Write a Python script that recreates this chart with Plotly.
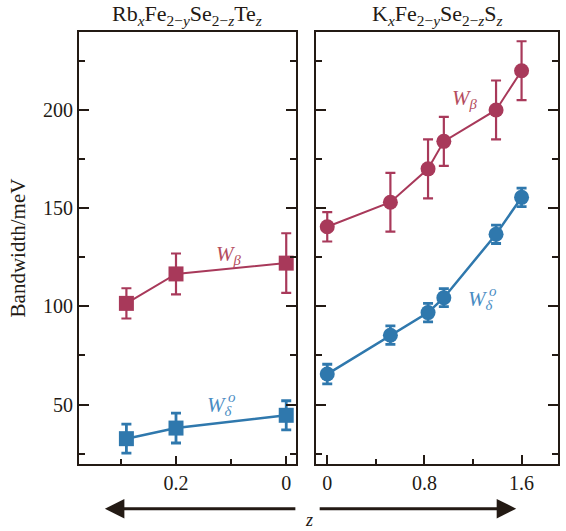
import plotly.graph_objects as go

# Rb_xFe_{2-y}Se_{2-z}Te_z series (x axis runs from high z to low z)
z_te = [0.29, 0.2, 0.0]
wb_te = [101.5, 116.5, 122.0]
wb_te_err = [7.7, 10.4, 15.2]
wd_te = [32.6, 38.0, 44.5]
wd_te_err = [7.4, 7.6, 7.4]

# K_xFe_{2-y}Se_{2-z}S_z series
z_s = [0.0, 0.52, 0.83, 0.96, 1.39, 1.6]
wb_s = [140.5, 153.0, 170.0, 184.0, 200.0, 220.0]
wb_s_err = [7.5, 15.0, 15.0, 12.5, 15.0, 15.0]
wd_s = [65.5, 85.3, 96.8, 104.4, 136.7, 155.5]
wd_s_err = [5.0, 4.7, 4.7, 4.6, 4.7, 4.7]

te_ticks = [0.2, 0.0]
te_ticktext = ["0.2", "0"]
te_minor = [0.3, 0.1]
s_ticks = [0.0, 0.8, 1.6]
s_ticktext = ["0", "0.8", "1.6"]

RED = "#a8395a"
BLUE = "#2f78ad"
RED_TXT = "#b44c5e"
BLUE_TXT = "#4a8cc3"
INK = "#231a14"
FONT = "Liberation Serif"

fig = go.Figure()


def add_series(x, y, err, color, symbol, xa, ya, lw, ew):
    fig.add_trace(go.Scatter(
        x=x, y=y, xaxis=xa, yaxis=ya, mode="lines+markers",
        line=dict(color=color, width=lw),
        marker=dict(color=color, size=15, symbol=symbol, line=dict(width=0)),
        error_y=dict(type="data", array=err, visible=True, color=color,
                     thickness=ew, width=5),
        showlegend=False, cliponaxis=False,
    ))


add_series(z_te, wb_te, wb_te_err, RED, "square", "x", "y", 2, 2.2)
add_series(z_te, wd_te, wd_te_err, BLUE, "square", "x", "y", 2.5, 2.8)
add_series(z_s, wb_s, wb_s_err, RED, "circle", "x2", "y2", 2, 2.2)
add_series(z_s, wd_s, wd_s_err, BLUE, "circle", "x2", "y2", 2.5, 2.8)

axis_common = dict(
    showline=True, linewidth=2, linecolor=INK, showgrid=False, zeroline=False,
    ticks="inside", tickcolor=INK, tickwidth=2,
    tickfont=dict(family=FONT, size=20, color=INK),
)

yr = [19.7, 239.7]
y_common = dict(axis_common, range=yr, tickmode="linear", tick0=0, dtick=50,
                ticklen=10, mirror="ticks",
                minor=dict(tickmode="linear", tick0=0, dtick=25, ticklen=6,
                           tickcolor=INK, tickwidth=2, ticks="inside"))

fig.update_layout(
    width=566, height=531,
    margin=dict(l=79, r=6, t=32, b=67),
    paper_bgcolor="white", plot_bgcolor="white",
    font=dict(family=FONT, color=INK),
    xaxis=dict(axis_common, domain=[0, 0.4522], range=[0.376, -0.017],
               tickmode="array", tickvals=te_ticks, ticktext=te_ticktext,
               ticklen=8, mirror=True,
               minor=dict(tickmode="array", tickvals=te_minor, ticklen=5,
                          tickcolor=INK, tickwidth=2, ticks="inside")),
    xaxis2=dict(axis_common, domain=[0.4958, 1.0], range=[-0.0886, 1.90],
                tickmode="array", tickvals=s_ticks, ticktext=s_ticktext,
                ticklen=9, mirror=True,
                minor=dict(tickmode="array", tickvals=[0.4, 1.2], ticklen=5,
                           tickcolor=INK, tickwidth=2, ticks="inside")),
    yaxis=dict(y_common, anchor="x",
               title=dict(text="Bandwidth/meV",
                          font=dict(family=FONT, size=21, color=INK),
                          standoff=12)),
    yaxis2=dict(y_common, anchor="x2", showticklabels=False),
)

annotations = [
    # panel headings
    dict(text="Rb<sub><i>x</i></sub>Fe<sub>2−<i>y</i></sub>Se<sub>2−<i>z</i></sub>Te<sub><i>z</i></sub>",
         xref="paper", yref="paper", x=0.2261, y=1.0394, showarrow=False,
         xanchor="center", yanchor="middle",
         font=dict(family=FONT, size=22, color=INK)),
    dict(text="K<sub><i>x</i></sub>Fe<sub>2−<i>y</i></sub>Se<sub>2−<i>z</i></sub>S<sub><i>z</i></sub>",
         xref="paper", yref="paper", x=0.7479, y=1.0394, showarrow=False,
         xanchor="center", yanchor="middle",
         font=dict(family=FONT, size=22, color=INK)),
    # series labels
    dict(text="<i>W</i><sub><i>β</i></sub>", xref="x", yref="y", x=0.103, y=126.1,
         showarrow=False, font=dict(family=FONT, size=21, color=RED_TXT)),
    dict(text="<i>W</i><sub><i>δ</i></sub>", xref="x", yref="y", x=0.1195, y=49.0,
         showarrow=False, font=dict(family=FONT, size=21, color=BLUE_TXT)),
    dict(text="<i>o</i>", xref="x", yref="y", x=0.1195, y=49.0, xshift=12, yshift=9,
         showarrow=False, font=dict(family=FONT, size=15, color=BLUE_TXT)),
    dict(text="<i>W</i><sub><i>β</i></sub>", xref="x2", yref="y2", x=1.138, y=205.6,
         showarrow=False, font=dict(family=FONT, size=21, color=RED_TXT)),
    dict(text="<i>W</i><sub><i>δ</i></sub>", xref="x2", yref="y2", x=1.269, y=103.0,
         showarrow=False, font=dict(family=FONT, size=21, color=BLUE_TXT)),
    dict(text="<i>o</i>", xref="x2", yref="y2", x=1.269, y=103.0, xshift=12, yshift=9,
         showarrow=False, font=dict(family=FONT, size=15, color=BLUE_TXT)),
    # direction arrows below the axes
    dict(text="", xref="paper", yref="paper", x=0.054, y=-0.1035,
         ax=192, ay=0, axref="pixel", ayref="pixel", showarrow=True,
         arrowhead=2, arrowsize=1.3, arrowwidth=3, arrowcolor=INK, standoff=0),
    dict(text="", xref="paper", yref="paper", x=0.9127, y=-0.1035,
         ax=-198, ay=0, axref="pixel", ayref="pixel", showarrow=True,
         arrowhead=2, arrowsize=1.3, arrowwidth=3, arrowcolor=INK, standoff=0),
    dict(text="<i>z</i>", xref="paper", yref="paper", x=0.4802, y=-0.1305,
         xanchor="center", yanchor="middle", showarrow=False,
         font=dict(family=FONT, size=18, color=INK)),
]
fig.update_layout(annotations=annotations)

fig.write_html("out.html")
